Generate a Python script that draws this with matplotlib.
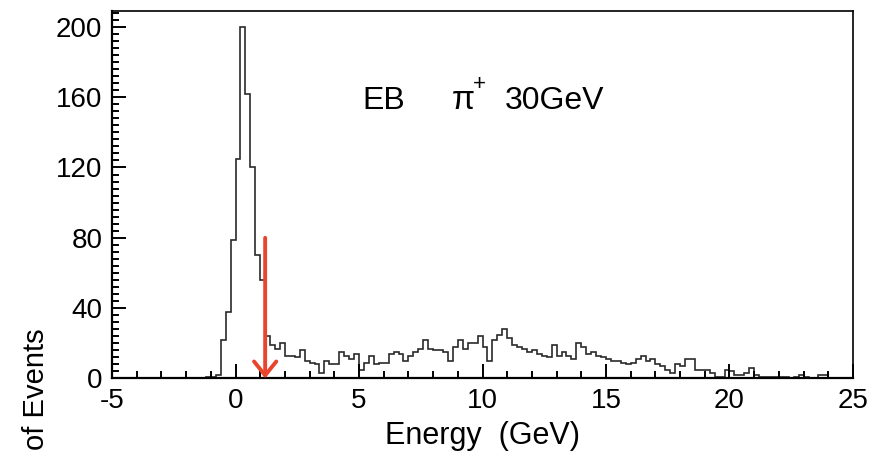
import numpy as np
import matplotlib.pyplot as plt
from matplotlib.ticker import MultipleLocator

plt.rcParams['font.family'] = ['Liberation Sans', 'DejaVu Sans']
plt.rcParams['axes.unicode_minus'] = False

# Energy deposit histogram, 0.2 GeV bins from -5 to 25 GeV
bin_lo = -5.0
bin_width = 0.2
counts = [
    0, 0, 0, 0, 0, 0, 0, 0, 0, 0, 0, 0, 0, 0, 0, 0, 0, 0, 0,    # -5.0 .. -1.4
    1, 1, 2, 22, 38, 79, 125, 200, 162, 120, 70, 56, 24, 19,    # -1.2 .. 1.4
    17, 20, 13, 13, 12, 16, 10, 9, 8, 3, 10, 8,                 # 1.6 .. 3.8
    8, 15, 13, 11, 14, 5, 9, 13, 8, 9,                          # 4.0 .. 5.8
    9, 14, 15, 14, 10, 13, 15, 17, 22, 17,                      # 6.0 .. 7.8
    16, 16, 15, 10, 18, 22, 17, 20, 20, 24,                     # 8.0 .. 9.8
    18, 10, 22, 25, 28, 23, 19, 18, 17, 15,                     # 10.0 .. 11.8
    16, 14, 13, 12, 19, 13, 15, 13, 11, 20,                     # 12.0 .. 13.8
    18, 14, 15, 13, 12, 11, 10, 10, 9, 8,                       # 14.0 .. 15.8
    9, 11, 13, 10, 11, 8, 7, 5, 3, 8,                           # 16.0 .. 17.8
    7, 11, 11, 5, 5, 5, 3, 1, 1, 5,                             # 18.0 .. 19.8
    4, 2, 2, 3, 6, 2, 1, 1, 1, 1,                               # 20.0 .. 21.8
    1, 1, 0, 1, 2, 1, 0, 0, 2, 2,                               # 22.0 .. 23.8
    0, 0, 0, 0, 0,                                              # 24.0 .. 24.8
]
edges = bin_lo + bin_width * np.arange(len(counts) + 1)

# selection cut marker
cut_energy = 1.2
cut_top = 80

fig = plt.figure(figsize=(8.85, 4.53), dpi=100)
ax = fig.add_axes([0.1266, 0.1645, 0.8372, 0.8112])

ax.stairs(counts, edges, color='#2a2a2a', lw=1.2)

ax.annotate('', xy=(cut_energy, 0), xytext=(cut_energy, cut_top),
            arrowprops=dict(arrowstyle='->,head_length=0.5,head_width=0.4',
                            color='#e8452c', lw=2.8, mutation_scale=20,
                            shrinkA=0, shrinkB=0))

ax.set_xlim(-5, 25)
ax.set_ylim(0, 209)
ax.xaxis.set_major_locator(MultipleLocator(5))
ax.xaxis.set_minor_locator(MultipleLocator(1))
ax.yaxis.set_major_locator(MultipleLocator(40))
ax.yaxis.set_minor_locator(MultipleLocator(4))
ax.tick_params(which='both', direction='in', top=False, right=False,
               labelsize=20, pad=7, width=1.4, color='black')
ax.tick_params(which='major', length=10)
ax.tick_params(which='minor', length=5)
for side in ['left', 'bottom']:
    ax.spines[side].set_linewidth(1.6)
for side in ['top', 'right']:
    ax.spines[side].set_linewidth(1.2)

ax.set_xlabel('Energy  (GeV)', fontsize=22, labelpad=5)
fig.text(36 / 885, 3 / 453, 'of Events', rotation=90, fontsize=21,
         ha='center', va='bottom')

ax.text(5.15, 158, 'EB', fontsize=23, ha='left', va='center')
ax.text(8.75, 158, 'π', fontsize=24, ha='left', va='center')
ax.text(9.6, 167, '+', fontsize=16, ha='left', va='center')
ax.text(10.9, 158, '30GeV', fontsize=23, ha='left', va='center')

fig.savefig('out.png', dpi=100)
